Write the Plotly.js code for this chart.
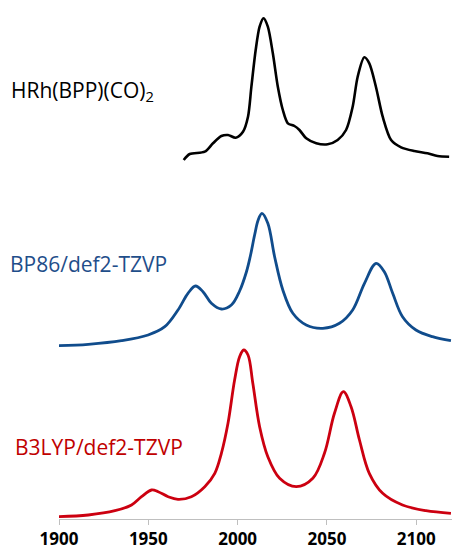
<!DOCTYPE html>
<html>
<head>
<meta charset="utf-8">
<script src="https://cdn.plot.ly/plotly-3.0.1.min.js"></script>
<style>html,body{margin:0;padding:0;background:#fff}#chart{width:452px;height:554px}</style>
</head>
<body>
<div id="chart"></div>
<script>
// Experimental spectrum HRh(BPP)(CO)2 (wavenumber, relative intensity)
var expX = [1969.8,1973.2,1981.6,1986.2,1990.9,1994.6,1998.9,2003.0,2005.8,2007.7,2010.1,2012.3,2014.5,2016.9,2019.7,2022.5,2025.3,2028.1,2031.8,2034.6,2038.4,2044.0,2050.4,2056.0,2060.7,2064.4,2067.2,2070.9,2073.7,2077.4,2081.2,2085.9,2091.5,2098.9,2106.3,2111.9,2118.4];
var expY = [4,10,12.3,20.7,28,29,26.3,32.3,47.3,77.3,114,137.3,145.7,137.3,110.7,77.3,54,40.7,38,34,25.7,20.7,19.7,24,34,57.3,87.3,106.7,100.7,77.3,47.3,24,16.7,13,10.7,8,7.3];

// BP86/def2-TZVP simulated spectrum
var bpX = [1900,1916.4,1935,1949.9,1959.2,1966.6,1972.2,1976.4,1980.6,1985.3,1990.9,1996.5,2001.1,2004.9,2007.0,2009.5,2011.5,2013.6,2016.9,2020.7,2025.3,2030.9,2038.4,2047.7,2057.0,2064.4,2071.0,2077.5,2082.1,2086.8,2092.3,2099.8,2109.1,2119.4];
var bpY = [3.3,4.7,8.3,14,22.3,39,55.7,63,57.3,45.7,40,44,58,77,92,114,129,135.7,125.7,92.3,59,35.7,24,20.7,25.7,39,65.7,85.7,77.3,55.7,32.3,19,12.3,8.3];

// B3LYP/def2-TZVP simulated spectrum
var b3X = [1900,1916.4,1931.3,1940.6,1946.2,1951.8,1955.5,1961.1,1966.6,1974.1,1981.6,1987.2,1990.9,1994.6,1998.3,2001.1,2003.4,2005.8,2008.5,2012.3,2016.9,2023.5,2032.8,2042.1,2048.6,2054.2,2059.2,2063.5,2068.2,2073.7,2081.2,2092.3,2105.4,2119.4];
var b3Y = [2.3,4,8.3,14,22.3,29,27.3,22.3,19.7,22.3,32.3,45.7,65.7,95.7,139,162.3,169,164,135.7,92.3,62.3,40.7,32.3,40.7,65.7,105.7,127.3,112.3,79,45.7,25.7,14,8.3,5.7];

var xTicks = [1900,1950,2000,2050,2100];
var labels = ['HRh(BPP)(CO)<sub>2</sub>','BP86/def2-TZVP','B3LYP/def2-TZVP'];

// vertical stacking offsets (layout)
var offExp = 355, offBP = 170, offB3 = 0;

function shift(arr, off){ return arr.map(function(v){ return v + off; }); }

var traces = [
  {x: expX, y: shift(expY, offExp), mode:'lines', line:{color:'#000000', width:2.6, shape:'spline', smoothing:0.8}, hoverinfo:'skip'},
  {x: bpX, y: shift(bpY, offBP), mode:'lines', line:{color:'#104c8c', width:2.8, shape:'spline', smoothing:1}, hoverinfo:'skip'},
  {x: b3X, y: shift(b3Y, offB3), mode:'lines', line:{color:'#cc0010', width:2.8, shape:'spline', smoothing:1}, hoverinfo:'skip'}
];

var lab = {family:'Open Sans, sans-serif', size:21};
function px2paperY(py){ return (519 - py) / 519; }
var layout = {
  width:452, height:554,
  margin:{l:59, r:0, t:0, b:35},
  paper_bgcolor:'#ffffff', plot_bgcolor:'#ffffff',
  showlegend:false,
  xaxis:{range:[1900,2120], tickvals:xTicks, ticktext:xTicks.map(String), showgrid:false, zeroline:false,
    showline:true, linecolor:'#bfbfbf', linewidth:1, ticks:'outside', ticklen:5, tickcolor:'#bfbfbf',
    tickfont:{family:'Open Sans, sans-serif', size:17, color:'#000', weight:'bold'}, fixedrange:true},
  yaxis:{range:[0,519], visible:false, fixedrange:true},
  annotations:[
    {x:-0.127, y:px2paperY(91), xref:'paper', yref:'paper', text:labels[0], showarrow:false, xanchor:'left', yanchor:'middle', font:Object.assign({color:'#000000'}, lab)},
    {x:-0.13, y:px2paperY(264), xref:'paper', yref:'paper', text:labels[1], showarrow:false, xanchor:'left', yanchor:'middle', font:Object.assign({color:'#1f4e8a'}, lab)},
    {x:-0.117, y:px2paperY(447), xref:'paper', yref:'paper', text:labels[2], showarrow:false, xanchor:'left', yanchor:'middle', font:Object.assign({color:'#c00000'}, lab)}
  ]
};
Plotly.newPlot('chart', traces, layout, {displayModeBar:false, staticPlot:true});
</script>
</body>
</html>
